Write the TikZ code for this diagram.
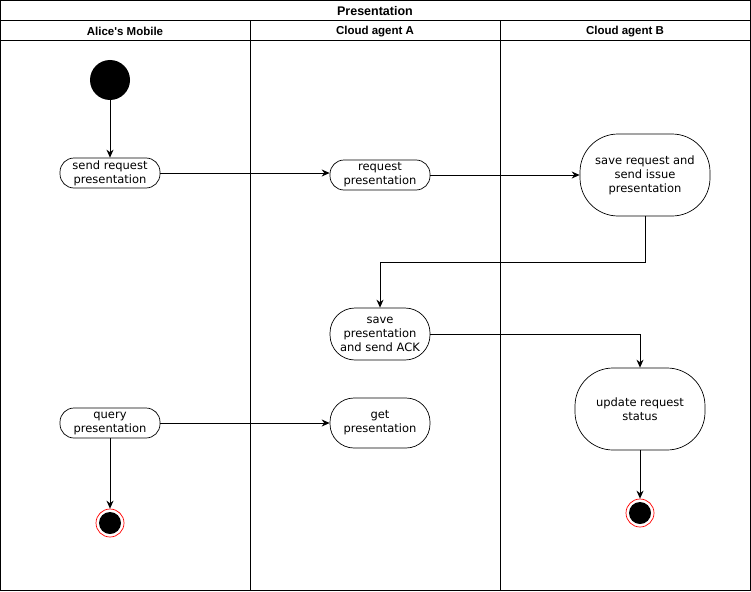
\documentclass[tikz,border=0pt]{standalone}
\usepackage{fontspec}
\setmainfont{DejaVu Sans}
\newfontfamily\headfont{Liberation Sans}
\usetikzlibrary{arrows.meta}
\tikzset{
  act/.style={draw, line width=0.7pt, fill=white, align=center, inner sep=0pt, font=\fontsize{11.5}{14}\selectfont},
  lane/.style={draw, line width=1pt},
  hd/.style={font=\headfont\bfseries\fontsize{11.5}{12}\selectfont},
  flow/.style={draw, line width=0.9pt, -{Stealth[length=8pt,width=7pt]}},
  endst/.style={circle, draw=red, line width=0.7pt, fill=white, minimum size=28pt, inner sep=0pt},
}
\begin{document}
\begin{tikzpicture}[x=1pt,y=-1pt]
\useasboundingbox (0,0) rectangle (751,591);
% frame and lanes
\draw[lane] (0.5,0.5) rectangle (750.5,590.5);
\draw[lane] (0.5,20.5) -- (750.5,20.5);
\draw[lane] (0.5,40.5) -- (750.5,40.5);
\draw[lane] (250.5,20.5) -- (250.5,590.5);
\draw[lane] (500.5,20.5) -- (500.5,590.5);
\node[hd, font=\headfont\bfseries\fontsize{12.5}{14}\selectfont] (title) at (375,11) {Presentation};
\node[hd] (h1) at (125,31.5) {Alice's Mobile};
\node[hd] (h2) at (375,31.5) {Cloud agent A};
\node[hd] (h3) at (625,31.5) {Cloud agent B};
% nodes
\node[circle, fill=black, minimum size=40pt, inner sep=0pt] (start) at (110,80) {};
\node[act, minimum width=100pt, minimum height=30pt, rounded corners=14pt] (sendreq) at (110,173) {send request\\presentation};
\node[act, minimum width=100pt, minimum height=30pt, rounded corners=14pt] (req) at (380,175) {request\\presentation};
\node[act, minimum width=130pt, minimum height=82pt, rounded corners=38pt] (savereq) at (645,175) {save request and\\send issue\\presentation};
\node[act, minimum width=100pt, minimum height=52pt, rounded corners=25pt] (savepres) at (380,334) {save\\presentation\\and send ACK};
\node[act, minimum width=100pt, minimum height=50pt, rounded corners=24pt] (getpres) at (380,423) {get\\presentation};
\node[act, minimum width=100pt, minimum height=30pt, rounded corners=14pt] (query) at (110,423) {query\\presentation};
\node[act, minimum width=130pt, minimum height=82pt, rounded corners=38pt] (update) at (640,409) {update request\\status};
\node[endst] (end1) at (110,523) {};
\node[circle, fill=black, minimum size=22pt, inner sep=0pt] (end1in) at (end1) {};
\node[endst] (end2) at (640,513) {};
\node[circle, fill=black, minimum size=22pt, inner sep=0pt] (end2in) at (end2) {};
% connectors
\coordinate (c1) at (645,262);
\coordinate (c2) at (380,262);
\coordinate (c3) at (640,334);
\draw[flow] (start) -- (sendreq);
\draw[flow] (sendreq.east) -- (req.west |- sendreq.east);
\draw[flow] (req) -- (savereq);
\draw[flow] (savereq.south) -- (c1) -- (c2) -- (savepres.north);
\draw[flow] (savepres.east) -- (c3) -- (update.north);
\draw[flow] (query) -- (getpres);
\draw[flow] (query) -- (end1);
\draw[flow] (update) -- (end2);
\end{tikzpicture}
\end{document}
